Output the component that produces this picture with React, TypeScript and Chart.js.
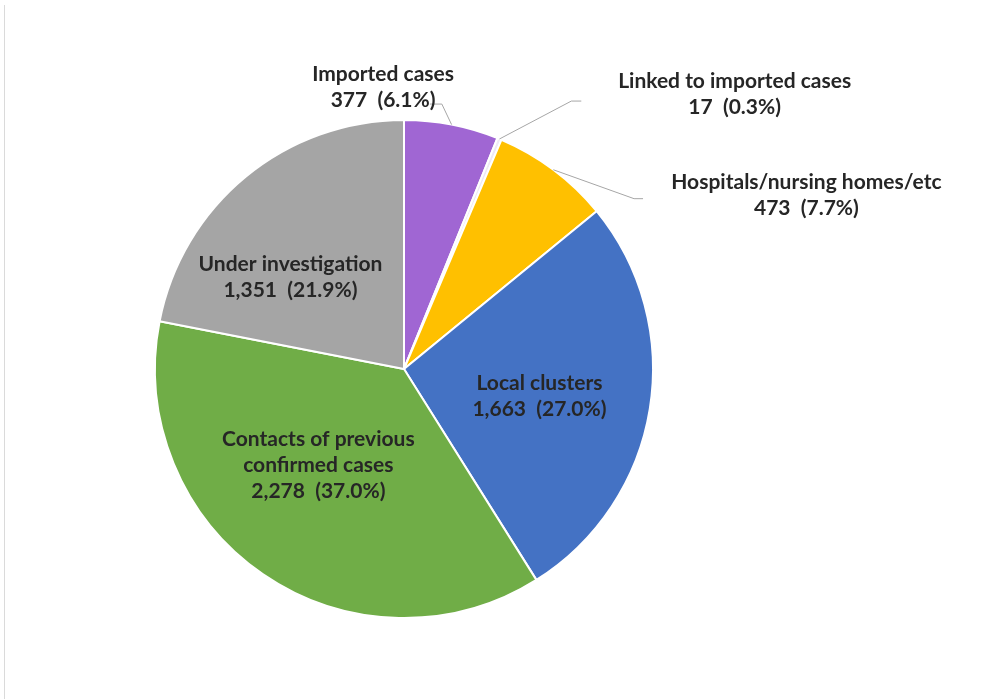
import React, { useEffect, useRef } from "react";
import { Chart, registerables } from "chart.js";

Chart.register(...registerables);

const categories = [
  "Imported cases",
  "Linked to imported cases",
  "Hospitals/nursing homes/etc",
  "Local clusters",
  "Contacts of previous confirmed cases",
  "Under investigation",
];
const labelLines = [
  ["Imported cases"],
  ["Linked to imported cases"],
  ["Hospitals/nursing homes/etc"],
  ["Local clusters"],
  ["Contacts of previous", "confirmed cases"],
  ["Under investigation"],
];
const caseCounts = [377, 17, 473, 1663, 2278, 1351];
const countLabels = ["377", "17", "473", "1,663", "2,278", "1,351"];
const percentLabels = ["6.1%", "0.3%", "7.7%", "27.0%", "37.0%", "21.9%"];
const sliceColors = ["#A066D3", "#EEE8F4", "#FFC000", "#4472C4", "#70AD47", "#A5A5A5"];

// label block centres, relative to pie centre, in units of radius
const labelOffsets: [number, number][] = [
  [-0.084, -1.132],
  [1.328, -1.102],
  [1.616, -0.698],
  [0.544, 0.11],
  [-0.344, 0.388],
  [-0.456, -0.37],
];
// leader line: elbow and end points relative to centre (units of radius), null = inside label
const leaders: ([number, number][] | null)[] = [
  [[0.152, -1.064], [0.104, -1.064]],
  [[0.672, -1.076], [0.712, -1.076]],
  [[0.924, -0.684], [0.96, -0.684]],
  null,
  null,
  null,
];

const FONT = "bold 21px Lato";
const LINE_H = 26;

const labelPlugin = {
  id: "sliceLabels",
  afterDatasetsDraw(chart: any) {
    const ctx = chart.ctx;
    const meta = chart.getDatasetMeta(0);
    ctx.save();
    // faint frame line at the left
    ctx.strokeStyle = "#DADADA";
    ctx.lineWidth = 1;
    ctx.beginPath();
    ctx.moveTo(4.5, 5);
    ctx.lineTo(4.5, chart.height);
    ctx.stroke();

    meta.data.forEach((arc: any, i: number) => {
      const { x, y, outerRadius, startAngle, endAngle } = arc.getProps(
        ["x", "y", "outerRadius", "startAngle", "endAngle"],
        true
      );
      const r = outerRadius;
      const mid = (startAngle + endAngle) / 2;
      const lead = leaders[i];
      if (lead) {
        ctx.strokeStyle = "#A6A6A6";
        ctx.lineWidth = 1;
        ctx.beginPath();
        ctx.moveTo(x + Math.cos(mid) * r, y + Math.sin(mid) * r);
        lead.forEach(([dx, dy]) => ctx.lineTo(x + dx * r, y + dy * r));
        ctx.stroke();
      }
      const lines = [...labelLines[i], `${countLabels[i]}  (${percentLabels[i]})`];
      const cx = x + labelOffsets[i][0] * r;
      const cy = y + labelOffsets[i][1] * r;
      ctx.font = FONT;
      ctx.fillStyle = "#262626";
      ctx.textAlign = "center";
      ctx.textBaseline = "middle";
      const top = cy - ((lines.length - 1) * LINE_H) / 2;
      lines.forEach((t, k) => ctx.fillText(t, cx, top + k * LINE_H));
    });
    ctx.restore();
  },
};

export default function App() {
  const ref = useRef<HTMLCanvasElement | null>(null);
  useEffect(() => {
    document.body.style.margin = "0";
    document.body.style.background = "#FFFFFF";
    if (!ref.current) return;
    const chart = new Chart(ref.current, {
      type: "pie",
      data: {
        labels: categories,
        datasets: [
          {
            data: caseCounts,
            backgroundColor: sliceColors,
            borderColor: "#FFFFFF",
            borderWidth: 2,
            radius: 249,
          },
        ],
      },
      options: {
        responsive: false,
        animation: false,
        layout: { padding: { left: 154, right: 336, top: 120, bottom: 81 } },
        plugins: {
          legend: { display: false },
          tooltip: { enabled: false },
        },
      },
      plugins: [labelPlugin],
    });
    return () => chart.destroy();
  }, []);
  return (
    <div style={{ width: 990, height: 699, background: "#FFFFFF" }}>
      <canvas ref={ref} width={990} height={699} />
    </div>
  );
}
